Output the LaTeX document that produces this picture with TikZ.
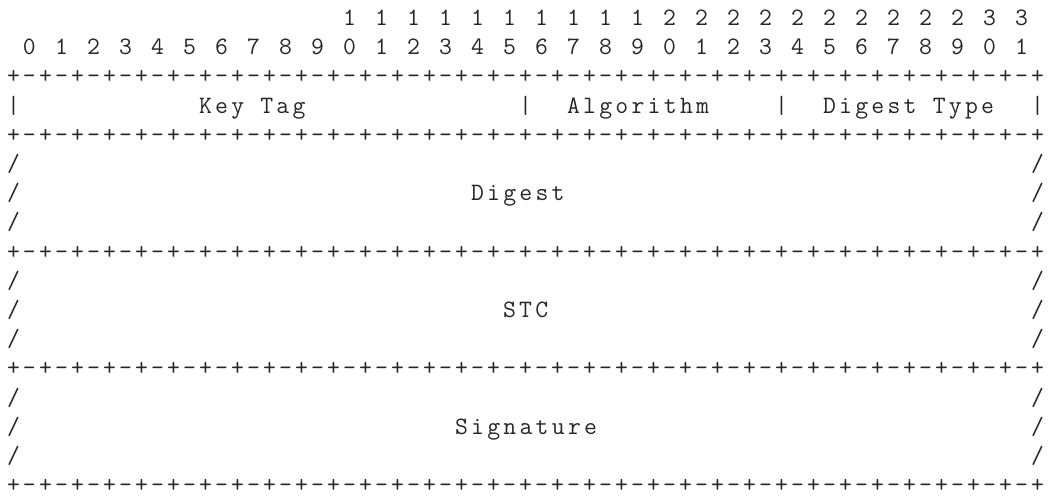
\documentclass[tikz,border=0pt]{standalone}
\usepackage{fontspec}
\setmonofont[LetterSpace=13.1]{Latin Modern Mono}
\usetikzlibrary{positioning}

% column left edge and row baseline, in px
\newcommand{\colx}[1]{7+16*(#1)}
\newcommand{\rowy}[1]{25.5+29.2*((#1)-1)}

\begin{document}
\begin{tikzpicture}[x=1pt,y=-1pt]
\tikzset{cell/.style={
           anchor=base west,
           inner sep=0pt,
           outer sep=0pt,
           text depth=0pt,
           font=\fontsize{25}{30}\selectfont\ttfamily,
           text=black!85,
           }
           }
\useasboundingbox (0,0) rectangle (1050,498);
%==========================================
% bit numbers
\foreach \b in {0,...,31}{
  \pgfmathtruncatemacro{\units}{mod(\b,10)}
  \node[cell] (u\b) at ({\colx{2*\b+1}},{\rowy{2}}) {\units};
}
\foreach \b in {10,...,31}{
  \pgfmathtruncatemacro{\tens}{\b/10}
  \node[cell] (t\b) at ({\colx{2*\b+1}},{\rowy{1}}) {\tens};
}
%==========================================
% border lines, one character per column
\foreach \r/\n in {3/top,5/sepA,9/sepB,13/sepC,17/bottom}{
  \foreach \b in {0,...,32}{
    \node[cell] (\n p\b) at ({\colx{2*\b}},{\rowy{\r}}) {+};
  }
  \foreach \b in {0,...,31}{
    \node[cell] (\n m\b) at ({\colx{2*\b+1}},{\rowy{\r}}) {-};
  }
}
%==========================================
% first word
\foreach \c/\n in {0/barA,32/barB,48/barC,64/barD}{
  \node[cell] (\n) at ({\colx{\c}},{\rowy{4}}) {|};
}
\node[cell] (keytag) at ({\colx{12}},{\rowy{4}}) {Key Tag};
\node[cell] (algo) at ({\colx{35}},{\rowy{4}}) {Algorithm};
\node[cell] (dtype) at ({\colx{51}},{\rowy{4}}) {Digest Type};
%==========================================
% variable length fields
\foreach \r in {6,7,8,10,11,12,14,15,16}{
  \node[cell] (l\r) at ({\colx{0}},{\rowy{\r}}) {/};
  \node[cell] (r\r) at ({\colx{64}},{\rowy{\r}}) {/};
}
\node[cell] (digest) at ({\colx{29}},{\rowy{7}}) {Digest};
\node[cell] (stc) at ({\colx{31}},{\rowy{11}}) {STC};
\node[cell] (sig) at ({\colx{28}},{\rowy{15}}) {Signature};
\end{tikzpicture}
\end{document}
